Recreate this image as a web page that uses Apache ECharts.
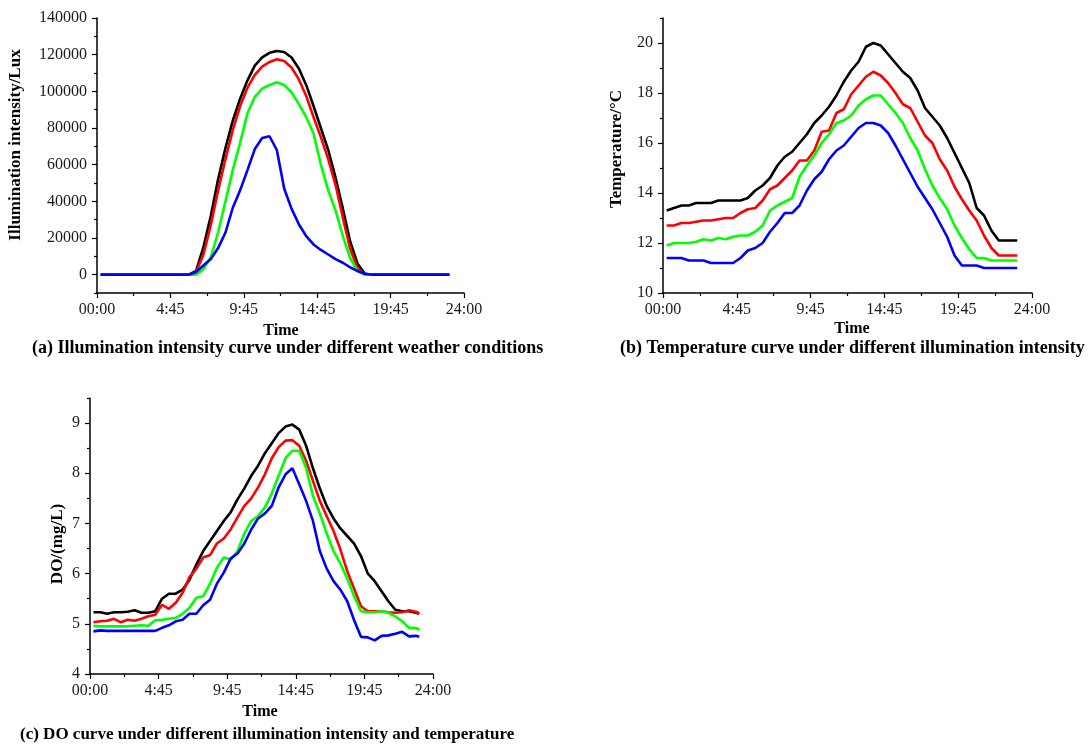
<!DOCTYPE html>
<html>
<head>
<meta charset="utf-8">
<script src="https://cdn.jsdelivr.net/npm/echarts@6/dist/echarts.min.js"></script>
<style>
html,body{margin:0;padding:0;background:#fff;}
#chart{width:1090px;height:744px;}
</style>
</head>
<body>
<div id="chart"></div>
<script>
// x positions (sample slots along the time axis, axis spans 0..100)
const slots = [1,3,5,7,9,11,13,15,17,19,21,23,25,27,29,31,33,35,37,39,41,43,45,47,49,51,53,55,57,59,61,63,65,67,69,71,73,75,77,79,81,83,85,87,89,91,93,95,96];
const xTickLabels = ['00:00','4:45','9:45','14:45','19:45','24:00'];

// (a) Illumination intensity (Lux)
const luxBlack = [0,0,0,0,0,0,0,0,0,0,0,0,0,2000,15000,32000,52000,69000,84000,96000,106000,114000,118500,121000,122000,121500,118500,112500,103500,92000,80000,68000,53000,36000,18000,6000,500,0,0,0,0,0,0,0,0,0,0,0,0];
const luxRed   = [0,0,0,0,0,0,0,0,0,0,0,0,0,1500,11000,27000,46000,63000,79000,92000,102000,109000,113500,116000,117500,116500,113000,106500,97500,86000,75000,63000,49000,31000,14000,3500,0,0,0,0,0,0,0,0,0,0,0,0,0];
const luxGreen = [0,0,0,0,0,0,0,0,0,0,0,0,0,0,3000,9500,23000,40000,57000,72000,88000,97000,101500,103500,105000,103500,99500,93000,86000,77000,60000,46000,35000,21000,9000,2000,0,0,0,0,0,0,0,0,0,0,0,0,0];
const luxBlue  = [0,0,0,0,0,0,0,0,0,0,0,0,0,1500,5000,8500,14500,23000,36500,46000,57000,68500,74500,75500,68000,47000,36000,27500,21000,16500,13500,11000,8500,6500,4000,2000,500,0,0,0,0,0,0,0,0,0,0,0,0];

// (b) Temperature (°C)
const tBlack = [13.3,13.4,13.5,13.5,13.6,13.6,13.6,13.7,13.7,13.7,13.7,13.8,14.1,14.3,14.6,15.1,15.45,15.65,16.0,16.35,16.8,17.1,17.45,17.9,18.45,18.9,19.25,19.85,20.0,19.9,19.55,19.2,18.85,18.6,18.1,17.4,17.05,16.7,16.2,15.6,15.0,14.4,13.4,13.1,12.5,12.1,12.1,12.1,12.1];
const tRed   = [12.7,12.7,12.8,12.8,12.85,12.9,12.9,12.95,13.0,13.0,13.2,13.35,13.4,13.7,14.15,14.3,14.6,14.9,15.3,15.3,15.7,16.45,16.5,17.2,17.35,17.95,18.3,18.65,18.85,18.7,18.4,18.0,17.55,17.4,16.85,16.3,16.0,15.35,14.9,14.25,13.75,13.3,12.9,12.3,11.8,11.5,11.5,11.5,11.5];
const tGreen = [11.9,12.0,12.0,12.0,12.05,12.15,12.1,12.2,12.15,12.25,12.3,12.3,12.45,12.7,13.3,13.5,13.65,13.8,14.65,15.1,15.5,16.0,16.35,16.8,16.9,17.1,17.5,17.75,17.9,17.9,17.55,17.2,16.8,16.2,15.7,14.95,14.3,13.8,13.35,12.7,12.2,11.75,11.4,11.4,11.3,11.3,11.3,11.3,11.3];
const tBlue  = [11.4,11.4,11.4,11.3,11.3,11.3,11.2,11.2,11.2,11.2,11.4,11.7,11.8,12.0,12.45,12.8,13.2,13.2,13.5,14.1,14.55,14.85,15.35,15.7,15.9,16.25,16.6,16.8,16.8,16.7,16.4,15.9,15.35,14.8,14.25,13.8,13.35,12.8,12.25,11.5,11.1,11.1,11.1,11.0,11.0,11.0,11.0,11.0,11.0];

// (c) DO (mg/L)
const doBlack = [5.23,5.23,5.2,5.23,5.23,5.24,5.27,5.22,5.22,5.25,5.5,5.6,5.6,5.68,5.88,6.18,6.45,6.65,6.85,7.05,7.22,7.48,7.7,7.95,8.15,8.4,8.6,8.8,8.93,8.97,8.87,8.55,8.1,7.7,7.35,7.1,6.9,6.75,6.6,6.35,6.0,5.85,5.65,5.45,5.28,5.25,5.25,5.22,5.2];
const doRed   = [5.03,5.05,5.06,5.1,5.03,5.08,5.06,5.1,5.15,5.18,5.38,5.3,5.42,5.62,5.93,6.1,6.32,6.37,6.6,6.7,6.88,7.12,7.35,7.5,7.72,7.98,8.3,8.52,8.65,8.66,8.55,8.25,7.85,7.45,7.15,6.85,6.48,6.05,5.7,5.35,5.25,5.25,5.25,5.23,5.22,5.23,5.27,5.24,5.21];
const doGreen = [4.96,4.95,4.95,4.95,4.95,4.95,4.96,4.97,4.96,5.07,5.08,5.1,5.12,5.2,5.32,5.52,5.55,5.8,6.12,6.32,6.28,6.45,6.8,7.05,7.15,7.32,7.6,7.95,8.3,8.45,8.45,8.1,7.55,7.2,6.8,6.45,6.2,5.9,5.55,5.25,5.23,5.23,5.25,5.22,5.15,5.05,4.92,4.92,4.88];
const doBlue  = [4.85,4.87,4.86,4.86,4.86,4.86,4.86,4.86,4.86,4.86,4.92,4.97,5.05,5.08,5.2,5.2,5.37,5.48,5.8,6.02,6.3,6.4,6.6,6.88,7.1,7.2,7.35,7.72,7.98,8.1,7.78,7.45,7.05,6.45,6.1,5.85,5.68,5.45,5.07,4.74,4.73,4.67,4.76,4.77,4.8,4.84,4.75,4.76,4.74];

// axis tick values
const luxMajor = [0,20000,40000,60000,80000,100000,120000,140000];
const luxMinor = [-10000,10000,30000,50000,70000,90000,110000,130000];
const tMajor = [10,12,14,16,18,20];
const tMinor = [11,13,15,17,19,21];
const doMajor = [4,5,6,7,8,9];
const doMinor = [4.5,5.5,6.5,7.5,8.5,9.5];

const colors = ['#000000','#ff0000','#00ff00','#0000ff'];
const FONT = '"Liberation Serif","Times New Roman",serif';

function pairs(vals){ return slots.map((x,i)=>[x, vals[i]]); }

const chart = echarts.init(document.getElementById('chart'), null, {renderer:'canvas'});

function xAxisCfg(gi){
  return {
    type:'value', gridIndex:gi, min:0, max:100, interval:20,
    axisLine:{show:true, onZero:false, lineStyle:{color:'#000', width:1.5}},
    axisTick:{show:true, length:5, lineStyle:{color:'#000', width:1.2}},
    minorTick:{show:true, splitNumber:2, length:3, lineStyle:{color:'#000', width:1.2}},
    splitLine:{show:false}, minorSplitLine:{show:false},
    axisLabel:{show:true, margin:9, color:'#1a1a1a', fontFamily:FONT, fontSize:16,
      showMinLabel:true, showMaxLabel:true,
      formatter:(v)=>{ const i=Math.round(v/20); return xTickLabels[i]!==undefined ? xTickLabels[i] : ''; }}
  };
}
function yAxisCfg(gi, min, max, interval, major){
  return {
    type:'value', gridIndex:gi, min:min, max:max, interval:interval, position:'left',
    axisLine:{show:true, onZero:false, lineStyle:{color:'#000', width:1.5}},
    axisTick:{show:true, length:5, customValues:major, lineStyle:{color:'#000', width:1.2}},
    splitLine:{show:false},
    axisLabel:{show:true, margin:10, color:'#1a1a1a', fontFamily:FONT, fontSize:16, customValues:major,
      formatter:(v)=>String(v)}
  };
}
function yMinorCfg(gi, min, max, interval, minor){
  return {
    type:'value', gridIndex:gi, min:min, max:max, interval:interval, position:'left', offset:0,
    axisLine:{show:false},
    axisTick:{show:true, length:3, customValues:minor, lineStyle:{color:'#000', width:1.2}},
    splitLine:{show:false},
    axisLabel:{show:false}
  };
}
function line(gi, yi, vals, c){
  return {type:'line', xAxisIndex:gi, yAxisIndex:yi, data:pairs(vals), showSymbol:false, symbol:'none',
    lineStyle:{color:c, width:2.6}, itemStyle:{color:c}, animation:false, silent:true};
}
function txt(x, y, text, opts){
  opts = opts || {};
  return {type:'text', x:x, y:y, rotation:opts.rot||0, silent:true,
    style:{text:text, fill:'#000', fontFamily:FONT, fontWeight:'bold', fontSize:opts.size||16,
      align:opts.align||'center', verticalAlign:'middle'}};
}

const option = {
  backgroundColor:'#fff',
  animation:false,
  grid:[
    {left:97, top:18, width:367, height:275, containLabel:false, outerBoundsMode:'none'},
    {left:663, top:18, width:369, height:275, containLabel:false, outerBoundsMode:'none'},
    {left:90, top:398, width:343, height:276, containLabel:false, outerBoundsMode:'none'}
  ],
  xAxis:[xAxisCfg(0), xAxisCfg(1), xAxisCfg(2)],
  yAxis:[
    yAxisCfg(0, -10000, 140000, 10000, luxMajor),
    yAxisCfg(1, 10, 21, 1, tMajor),
    yAxisCfg(2, 4, 9.5, 0.5, doMajor),
    yMinorCfg(0, -10000, 140000, 10000, luxMinor),
    yMinorCfg(1, 10, 21, 1, tMinor),
    yMinorCfg(2, 4, 9.5, 0.5, doMinor)
  ],
  series:[
    line(0,0,luxBlack,colors[0]), line(0,0,luxRed,colors[1]), line(0,0,luxGreen,colors[2]), line(0,0,luxBlue,colors[3]),
    line(1,1,tBlack,colors[0]), line(1,1,tRed,colors[1]), line(1,1,tGreen,colors[2]), line(1,1,tBlue,colors[3]),
    line(2,2,doBlack,colors[0]), line(2,2,doRed,colors[1]), line(2,2,doGreen,colors[2]), line(2,2,doBlue,colors[3])
  ],
  graphic:[
    txt(16,145,'Illumination intensity/Lux',{rot:Math.PI/2, size:17}),
    txt(281,331,'Time'),
    txt(32,348,'(a) Illumination intensity curve under different weather conditions',{align:'left', size:18}),
    txt(617,149,'Temperature/°C',{rot:Math.PI/2, size:17}),
    txt(852,329,'Time'),
    txt(620,348,'(b) Temperature curve under different illumination intensity',{align:'left', size:18}),
    txt(58,544,'DO/(mg/L)',{rot:Math.PI/2, size:17}),
    txt(260,712,'Time'),
    txt(20,735,'(c) DO curve under different illumination intensity and temperature',{align:'left', size:17})
  ]
};
chart.setOption(option);
</script>
</body>
</html>
